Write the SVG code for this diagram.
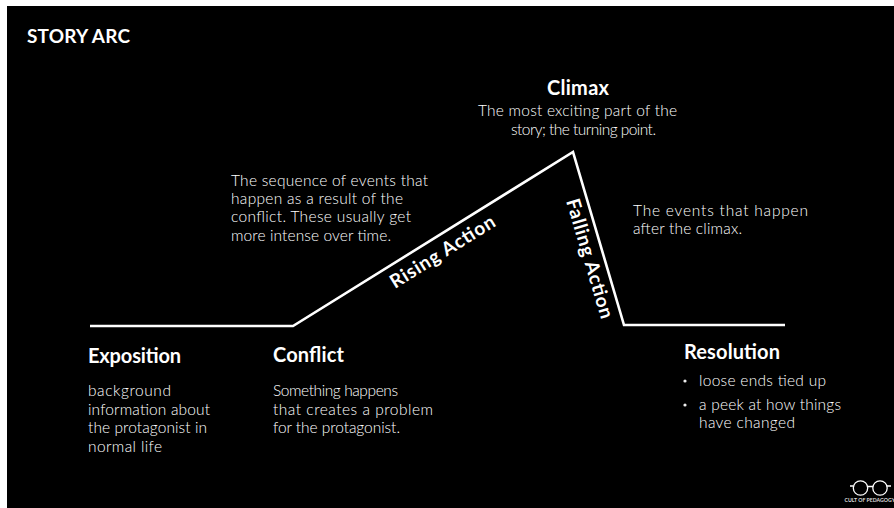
<svg xmlns="http://www.w3.org/2000/svg" width="894" height="508" viewBox="0 0 894 508">
<style>
text{font-family:"Lato","Noto Sans",sans-serif;fill:#fff}
.h{font-size:20px;font-weight:700}
.b{font-size:15.500px;font-weight:300}
.a{font-size:19px;font-weight:700}
.l{fill:none;stroke:#fff;stroke-width:2.6}
</style>
<rect width="894" height="508" fill="#fff"/>
<rect x="7" y="6" width="887" height="502" fill="#000"/>
<text id="title" x="27" y="43" textLength="103" style="font-size:19px;font-weight:700">STORY ARC</text>
<g id="connectors"><path class="l" d="M90 326H293L573 152L624 325H785"/></g>
<g id="exposition"><text class="h" x="88" y="363" textLength="93">Exposition</text>
<text class="b" x="88" y="396" textLength="83">background</text><text class="b" x="88" y="415" textLength="122">information about</text><text class="b" x="88" y="433" textLength="119">the protagonist in</text><text class="b" x="88" y="452" textLength="74">normal life</text></g>
<g id="conflict"><text class="h" x="273" y="362" textLength="71">Conflict</text>
<text class="b" x="273" y="396" textLength="125">Something happens</text><text class="b" x="273" y="415" textLength="160">that creates a problem</text><text class="b" x="273" y="433" textLength="127">for the protagonist.</text></g>
<g id="rising"><text class="b" x="231" y="186" textLength="197">The sequence of events that</text><text class="b" x="231" y="204" textLength="172">happen as a result of the</text><text class="b" x="231" y="222" textLength="180">conflict. These usually get</text><text class="b" x="231" y="241" textLength="160">more intense over time.</text>
<text class="a" transform="translate(395 289) rotate(-32)" textLength="120">Rising Action</text></g>
<g id="climax"><text class="h" x="547" y="95" textLength="62">Climax</text>
<text class="b" x="478" y="116" textLength="199">The most exciting part of the</text><text class="b" x="511" y="135" textLength="145">story; the turning point.</text></g>
<g id="falling"><text class="a" transform="translate(566 201) rotate(73.500)" textLength="124">Falling Action</text>
<text class="b" x="633" y="216" textLength="175">The events that happen</text><text class="b" x="633" y="234" textLength="109">after the climax.</text></g>
<g id="resolution"><text class="h" x="684" y="359" textLength="96">Resolution</text>
<circle cx="685" cy="381" r="1.6" fill="#eee"/><circle cx="685" cy="405" r="1.6" fill="#eee"/>
<text class="b" x="699" y="386" textLength="127">loose ends tied up</text><text class="b" x="699" y="410" textLength="142">a peek at how things</text><text class="b" x="699" y="428" textLength="96">have changed</text></g>
<g id="logo" fill="none" stroke="#fff" stroke-width="1.3"><circle cx="860.500" cy="488" r="7.200"/><circle cx="880" cy="488" r="7.200"/><path d="M868 486.500H873M850 486H853M887 486H891"/>
<text x="844.500" y="502" style="font-size:5.200px;font-weight:700;stroke:none;fill:#ddd">CULT OF PEDAGOGY</text></g>
</svg>
